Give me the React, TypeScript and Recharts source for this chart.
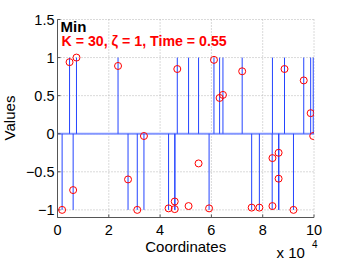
import React from "react";
import {
  ComposedChart,
  XAxis,
  YAxis,
  CartesianGrid,
  ReferenceLine,
  Scatter,
} from "recharts";

// true sparse signal (stems), positions in units of 10^4
const stemPositions = [
  0.18, 0.47, 0.61, 0.74, 2.36, 2.75, 3.11, 3.37, 4.33, 4.57, 4.58, 4.67, 5.11, 5.5,
  5.91, 6.1, 6.32, 6.45, 7.2, 7.57, 7.87, 8.37, 8.38, 8.62, 8.63, 8.85, 9.2, 9.6,
  9.87, 9.97,
];
const stemValues = [
  -1, 1, -1, 1, 1, -1, -1, -1, -1, -1, -1, 1, 1, 1,
  -1, 1, 1, 1, 1, -1, -1, -1, 1, -1, -1, 1, -1, 1,
  1, 1,
];

// recovered values (red circles)
const estPositions = [
  0.18, 0.47, 0.61, 0.74, 2.36, 2.75, 3.11, 3.37, 4.33, 4.57, 4.57, 4.67, 5.11, 5.5,
  5.91, 6.1, 6.32, 6.45, 7.2, 7.57, 7.87, 8.38, 8.38, 8.62, 8.62, 8.85, 9.2, 9.6,
  9.87, 9.97,
];
const estValues = [
  -1.0, 0.94, -0.74, 1.0, 0.89, -0.6, -1.0, -0.03, -0.98, -0.89, -0.99, 0.85, -0.95, -0.39,
  -0.98, 0.97, 0.47, 0.51, 0.82, -0.97, -0.97, -0.32, -0.95, -0.25, -0.59, 0.85, -1.0, 0.7,
  0.27, -0.03,
];

const xTicks = [0, 2, 4, 6, 8, 10];
const yTicks = [-1, -0.5, 0, 0.5, 1, 1.5];

const stems = stemPositions.map((x, i) => ({ x, y: stemValues[i] }));
const estimates = estPositions.map((x, i) => ({ x, y: estValues[i] }));

const FONT = '"Liberation Sans", Arial, Helvetica, sans-serif';
const AXIS = "#555";

const fmt = (v: number) => String(v).replace("-", "\u2212");

const RedCircle = (props: any) => {
  const { cx, cy } = props;
  return <circle cx={cx} cy={cy} r={3.5} fill="none" stroke="#ff0000" strokeWidth={1} />;
};

export default function App() {
  return (
    <div style={{ position: "absolute", left: 0, top: 0, width: 346, height: 260, background: "#fff" }}>
      <ComposedChart
        width={346}
        height={260}
        data={stems}
        margin={{ top: 19.5, right: 32, bottom: 0, left: 0 }}
      >
        <CartesianGrid stroke="#b4b4b4" strokeDasharray="1 2" />
        <XAxis
          dataKey="x"
          type="number"
          domain={[0, 10]}
          ticks={xTicks}
          allowDataOverflow
          height={42.5}
          tickSize={-3}
          tickMargin={10}
          tickFormatter={fmt}
          tick={{ fontSize: 14.5, fill: "#000", fontFamily: FONT }}
          axisLine={{ stroke: AXIS }}
          tickLine={{ stroke: AXIS }}
        />
        <XAxis
          xAxisId="top"
          orientation="top"
          type="number"
          domain={[0, 10]}
          ticks={xTicks}
          allowDataOverflow
          height={0}
          tickSize={-3}
          tick={false}
          axisLine={{ stroke: AXIS }}
          tickLine={{ stroke: AXIS }}
        />
        <YAxis
          type="number"
          domain={[-1.1, 1.5]}
          ticks={yTicks}
          allowDataOverflow
          interval={0}
          width={57.5}
          tickSize={-3}
          tickMargin={6}
          tickFormatter={fmt}
          tick={{ fontSize: 14.5, fill: "#000", fontFamily: FONT }}
          axisLine={{ stroke: AXIS }}
          tickLine={{ stroke: AXIS }}
        />
        <YAxis
          yAxisId="right"
          orientation="right"
          type="number"
          domain={[-1.1, 1.5]}
          ticks={yTicks}
          allowDataOverflow
          width={0}
          tickSize={-3}
          tick={false}
          axisLine={{ stroke: AXIS }}
          tickLine={{ stroke: AXIS }}
        />
        <ReferenceLine y={0} stroke="#8396ff" strokeWidth={2} />
        {stems.map((s, i) => (
          <ReferenceLine
            key={i}
            segment={[
              { x: s.x, y: 0 },
              { x: s.x, y: s.y },
            ]}
            stroke="#2444ff"
            strokeWidth={1}
          />
        ))}
        <Scatter data={estimates} dataKey="y" shape={RedCircle} isAnimationActive={false} />
      </ComposedChart>
      <svg
        width={346}
        height={260}
        style={{ position: "absolute", left: 0, top: 0, pointerEvents: "none" }}
        fontFamily={FONT}
      >
        <text x={60.5} y={31.5} fontSize={15} fontWeight="bold" fill="#000">
          Min
        </text>
        <text x={61.5} y={46} fontSize={14.2} fontWeight="bold" fill="#ff0000">
          K = 30, ζ = 1, Time = 0.55
        </text>
        <text x={185.7} y={252} fontSize={15} textAnchor="middle" fill="#000">
          Coordinates
        </text>
        <text transform="translate(14.5,118) rotate(-90)" fontSize={15} textAnchor="middle" fill="#000">
          Values
        </text>
        <text x={276.5} y={258.3} fontSize={15} fill="#000">
          x 10
        </text>
        <text x={312} y={248.3} fontSize={10} fill="#000">
          4
        </text>
      </svg>
    </div>
  );
}
